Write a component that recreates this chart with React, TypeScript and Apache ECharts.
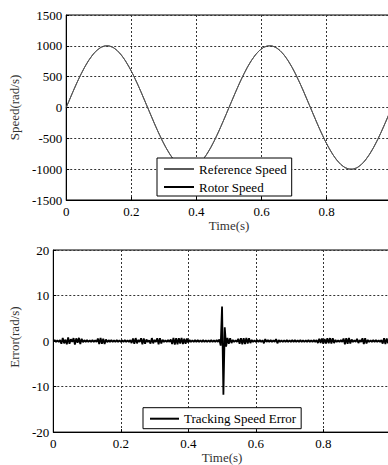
import React, { useEffect, useRef } from "react";
import * as echarts from "echarts";

// Top plot: speed (rad/s), sampled every 0.0125 s
const speedStep = 0.0125;
const referenceSpeed = [
  0, 156, 309, 454, 588, 707, 809, 891, 951, 988,
  1000, 988, 951, 891, 809, 707, 588, 454, 309, 156,
  0, -156, -309, -454, -588, -707, -809, -891, -951, -988,
  -1000, -988, -951, -891, -809, -707, -588, -454, -309, -156,
  0, 156, 309, 454, 588, 707, 809, 891, 951, 988,
  1000, 988, 951, 891, 809, 707, 588, 454, 309, 156,
  0, -156, -309, -454, -588, -707, -809, -891, -951, -988,
  -1000, -988, -951, -891, -809, -707, -588, -454, -309, -156,
  0,
];
const rotorSpeed = [
  0, 155, 308, 454, 587, 707, 808, 891, 950, 988,
  999, 988, 951, 890, 809, 706, 588, 453, 309, 155,
  0, -155, -309, -453, -588, -706, -809, -890, -951, -987,
  -999, -988, -951, -891, -808, -707, -588, -454, -308, -156,
  0, 155, 308, 454, 587, 707, 808, 891, 950, 988,
  999, 988, 951, 890, 809, 706, 588, 453, 309, 155,
  0, -155, -309, -453, -588, -706, -809, -890, -951, -987,
  -999, -988, -951, -891, -808, -707, -588, -454, -308, -156,
  0,
];

// Bottom plot: tracking speed error (rad/s), sampled every 0.004 s
const errorStep = 0.004;
const trackingError = [
  0, 0.2, -0.2, 0.18, -0.2, 0.2, -0.6, 0.7, -0.5, 0.3,
  -0.7, 0.8, -0.6, 0.4, -0.2, 0.65, -0.75, 0.6, -0.35, 0.7,
  -0.65, 0.5, -0.25, 0.2, -0.18, 0.2, -0.2, 0.18, -0.2, 0.2,
  -0.2, 0.18, -0.2, 0.55, -0.65, 0.7, -0.6, 0.5, -0.65, 0.35,
  -0.25, 0.2, -0.18, 0.2, -0.2, 0.18, -0.2, 0.2, -0.2, 0.18,
  -0.2, 0.18, -0.18, 0.2, -0.2, 0.18, -0.2, 0.2, -0.45, 0.55,
  -0.6, 0.65, -0.5, 0.25, -0.2, 0.6, -0.7, 0.55, -0.6, 0.35,
  -0.2, 0.18, -0.55, 0.65, -0.5, 0.25, -0.2, 0.6, -0.7, 0.65,
  -0.55, 0.3, -0.2, 0.18, -0.2, 0.2, -0.18, 0.35, -0.65, 0.7,
  -0.75, 0.65, -0.7, 0.6, -0.55, 0.7, -0.65, 0.5, -0.6, 0.55,
  -0.35, 0.25, -0.2, 0.18, -0.2, 0.2, -0.18, 0.2, -0.2, 0.18,
  -0.2, 0.2, -0.2, 0.18, -0.2, 0.18, -0.18, 0.2, -0.2, 0.18,
  -0.2, 0.2, -0.18, 0.35, -1.0, 7.6, -11.8, 3.0, -1.2, 0.7,
  -0.6, 0.6, -0.45, 0.25, -0.2, 0.18, -0.2, 0.5, -0.6, 0.65,
  -0.7, 0.6, -0.65, 0.7, -0.55, 0.6, -0.45, 0.25, -0.2, 0.18,
  -0.2, 0.2, -0.18, 0.2, -0.2, 0.18, -0.5, 0.45, -0.2, 0.2,
  -0.18, 0.2, -0.2, 0.18, -0.2, 0.45, -0.5, 0.2, -0.2, 0.18,
  -0.2, 0.18, -0.18, 0.2, -0.2, 0.18, -0.2, 0.2, -0.18, 0.2,
  -0.2, 0.18, -0.2, 0.2, -0.2, 0.18, -0.2, 0.18, -0.18, 0.2,
  -0.2, 0.18, -0.2, 0.2, -0.18, 0.2, -0.45, 0.5, -0.4, 0.55,
  -0.6, 0.45, -0.55, 0.6, -0.5, 0.65, -0.55, 0.6, -0.45, 0.25,
  -0.2, 0.18, -0.2, 0.2, -0.18, 0.55, -0.7, 0.65, -0.6, 0.7,
  -0.55, 0.35, -0.2, 0.18, -0.2, 0.5, -0.45, 0.2, -0.18, 0.6,
  -0.65, 0.6, -0.55, 0.25, -0.2, 0.18, -0.2, 0.2, -0.18, 0.2,
  -0.2, 0.18, -0.2, 0.2, -0.55, 0.6, -0.65, 0.55, -0.5, 0.35,
  -0.2,
];

const xTicks = { min: 0, max: 1, interval: 0.2 };
const speedTicks = { min: -1500, max: 1500, interval: 500 };
const errorTicks = { min: -20, max: 20, interval: 10 };

const FONT = "Liberation Serif";

export default function App() {
  const ref = useRef<HTMLDivElement>(null);
  useEffect(() => {
    if (!ref.current) return;
    const chart = echarts.init(ref.current, undefined, { renderer: "svg" });
    const toPairs = (arr: number[], step: number) =>
      arr.map((v, i) => [+(i * step).toFixed(5), v]);

    const splitLine = {
      show: true,
      lineStyle: { color: "#333", type: [2, 2], width: 1 },
    };
    const axisLabel = (margin: number) => ({
      color: "#000",
      fontFamily: FONT,
      fontSize: 13,
      margin,
      formatter: (v: number) => String(+v.toFixed(1)),
    });
    const nameStyle = { color: "#333", fontFamily: FONT, fontSize: 13 };
    const axisTick = { show: true, inside: true, length: 3, lineStyle: { color: "#000" } };
    const axisLine = { show: true, onZero: false, lineStyle: { color: "#000" } };

    const xAxisBase = (gridIndex: number, gap: number) => ({
      type: "value",
      gridIndex,
      ...xTicks,
      name: "Time(s)",
      nameLocation: "middle",
      nameGap: gap,
      nameTextStyle: nameStyle,
      axisLine,
      axisTick,
      splitLine,
      axisLabel: {
        ...axisLabel(5),
        formatter: (v: number) => (v >= 1 ? "" : String(+v.toFixed(1))),
      },
    });

    const legendCommon = {
      orient: "vertical",
      itemHeight: 14,
      backgroundColor: "#fff",
      borderColor: "#000",
      borderWidth: 1,
      borderRadius: 0,
      itemStyle: { opacity: 0 },
      textStyle: { color: "#000", fontFamily: FONT, fontSize: 13, lineHeight: 14 },
    };

    chart.setOption({
      animation: false,
      backgroundColor: "#fff",
      textStyle: { fontFamily: FONT },
      grid: [
        { left: 57, top: 15, width: 334.8, height: 185, show: true, borderColor: "#000", borderWidth: 1, backgroundColor: "transparent" },
        { left: 53.3, top: 250, width: 337.5, height: 184.3, show: true, borderColor: "#000", borderWidth: 1, backgroundColor: "transparent" },
      ],
      xAxis: [xAxisBase(0, 18), xAxisBase(1, 17)],
      yAxis: [
        {
          type: "value",
          gridIndex: 0,
          ...speedTicks,
          name: "Speed(rad/s)",
          nameLocation: "middle",
          nameGap: 31,
          nameTextStyle: nameStyle,
          axisLine,
          axisTick,
          splitLine,
          axisLabel: axisLabel(4),
        },
        {
          type: "value",
          gridIndex: 1,
          ...errorTicks,
          name: "Error(rad/s)",
          nameLocation: "middle",
          nameGap: 28,
          nameTextStyle: { ...nameStyle, padding: [0, 0, 0, 8] },
          axisLine,
          axisTick,
          splitLine,
          axisLabel: axisLabel(4),
        },
      ],
      legend: [
        {
          ...legendCommon,
          data: ["Reference Speed", "Rotor Speed"],
          left: 157,
          top: 158,
          padding: [4, 5, 2, 6],
          itemGap: 4,
          itemWidth: 30,
        },
        {
          ...legendCommon,
          data: ["Tracking Speed Error"],
          left: 143,
          top: 407.7,
          padding: [4, 5, 3, 6],
          itemWidth: 29,
        },
      ],
      series: [
        {
          name: "Reference Speed",
          type: "line",
          xAxisIndex: 0,
          yAxisIndex: 0,
          symbol: "none",
          smooth: true,
          data: toPairs(referenceSpeed, speedStep),
          lineStyle: { color: "#5a5a5a", width: 1 },
          itemStyle: { color: "#5a5a5a" },
          z: 3,
        },
        {
          name: "Rotor Speed",
          type: "line",
          xAxisIndex: 0,
          yAxisIndex: 0,
          symbol: "none",
          smooth: true,
          data: toPairs(rotorSpeed, speedStep),
          lineStyle: { color: "#000", width: 0.8 },
          itemStyle: { color: "#000" },
          z: 2,
        },
        {
          name: "Tracking Speed Error",
          type: "line",
          xAxisIndex: 1,
          yAxisIndex: 1,
          symbol: "none",
          data: toPairs(trackingError, errorStep),
          lineStyle: { color: "#000", width: 1.8 },
          itemStyle: { color: "#000" },
        },
      ],
    });
    return () => chart.dispose();
  }, []);

  return (
    <div
      style={{
        position: "fixed",
        left: 0,
        top: 0,
        width: 388,
        height: 465,
        overflow: "hidden",
        background: "#fff",
      }}
    >
      <div ref={ref} style={{ width: 400, height: 465 }} />
    </div>
  );
}
